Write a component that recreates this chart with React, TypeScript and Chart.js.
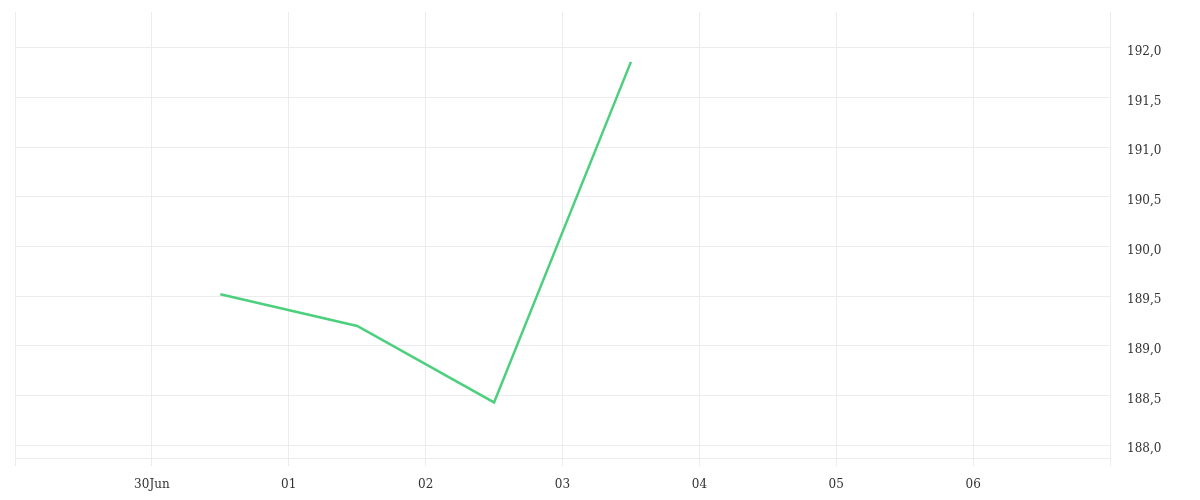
import React, { useEffect, useRef } from "react";
import { Chart, registerables } from "chart.js";

Chart.register(...registerables);

// Day index: 0 = 29 Jun 00:00 ... 8 = 07 Jul 00:00
const xTickLabels = ["", "30Jun", "01", "02", "03", "04", "05", "06", ""];
const pointDays = [1.5, 2.5, 3.5, 4.5];
const prices = [189.52, 189.2, 188.43, 191.86];

export default function App() {
  const ref = useRef<HTMLCanvasElement>(null);
  useEffect(() => {
    if (!ref.current) return;
    const font = { family: "'DejaVu Serif', serif", size: 12 };
    const chart = new Chart(ref.current, {
      type: "line",
      data: {
        datasets: [
          {
            data: pointDays.map((d, i) => ({ x: d, y: prices[i] })),
            borderColor: "rgb(76, 208, 125)",
            borderWidth: 2.5,
            pointRadius: 0,
            tension: 0,
            fill: false,
          },
        ],
      },
      options: {
        animation: false,
        responsive: true,
        maintainAspectRatio: false,
        layout: { padding: { left: 15, top: 0, right: 0, bottom: 0 } },
        plugins: { legend: { display: false }, tooltip: { enabled: false } },
        scales: {
          x: {
            type: "linear",
            min: 0,
            max: 8,
            afterFit: (s: any) => { s.height = 42; },
            ticks: {
              stepSize: 1,
              autoSkip: false,
              maxRotation: 0,
              padding: 12,
              color: "#333",
              font,
              callback: (v: any) => xTickLabels[Math.round(Number(v))] ?? "",
            },
            grid: { color: "#ececec", lineWidth: 1, drawTicks: true, tickLength: 8 },
            border: { color: "#ececec" },
          },
          y: {
            position: "right",
            min: 187.87,
            max: 192.36,
            afterFit: (s: any) => { s.width = 90; },
            afterBuildTicks: (s: any) => {
              const t = [];
              for (let v = 188; v <= 192.001; v += 0.5) t.push({ value: v });
              s.ticks = t;
            },
            ticks: {
              padding: 17,
              labelOffset: 4,
              color: "#333",
              font,
              callback: (v: any) => Number(v).toFixed(1).replace(".", ","),
            },
            grid: { color: "#ececec", lineWidth: 1, drawTicks: false },
            border: { color: "#ececec" },
          },
        },
      },
    });
    return () => chart.destroy();
  }, []);
  return (
    <div style={{ position: "fixed", left: 0, top: -12, width: 1200, height: 512, background: "#fff" }}>
      <canvas ref={ref} />
    </div>
  );
}
